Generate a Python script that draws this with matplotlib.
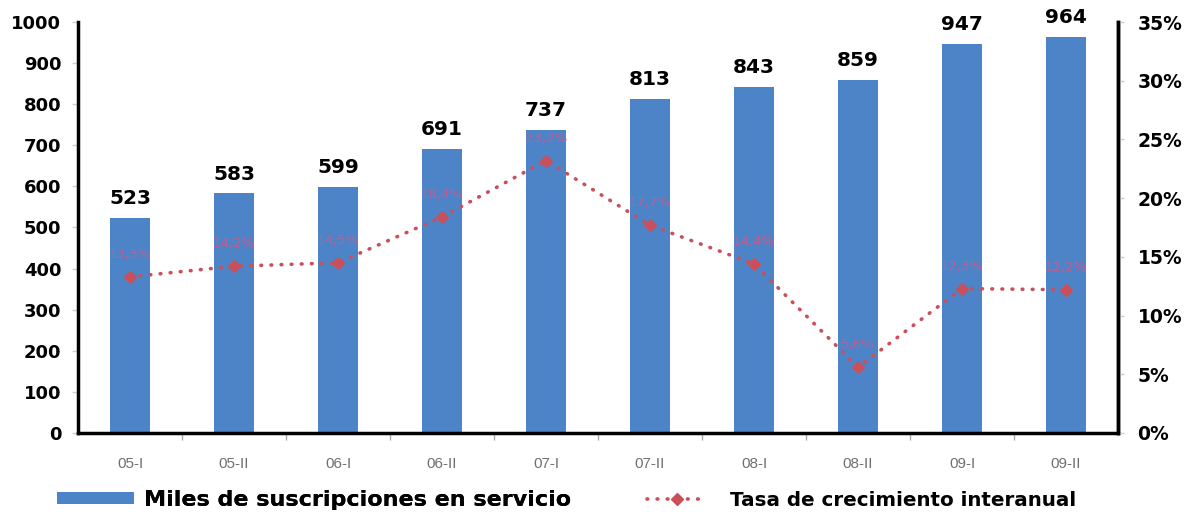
import matplotlib
matplotlib.use("Agg")
import matplotlib.pyplot as plt
import numpy as np
from matplotlib.ticker import FuncFormatter, FixedLocator
from matplotlib.lines import Line2D
from matplotlib.patches import Patch

categories = ["05-I", "05-II", "06-I", "06-II", "07-I", "07-II", "08-I", "08-II", "09-I", "09-II"]
suscripciones = [523, 583, 599, 691, 737, 813, 843, 859, 947, 964]
crecimiento = [13.3, 14.2, 14.5, 18.4, 23.2, 17.7, 14.4, 5.6, 12.3, 12.2]
left_ticks = [0, 100, 200, 300, 400, 500, 600, 700, 800, 900, 1000]
right_ticks = [0, 5, 10, 15, 20, 25, 30, 35]
legend_labels = ['Miles de suscripciones en servicio', 'Tasa de crecimiento interanual']

plt.rcParams['font.family'] = ['DejaVu Sans']

W, H = 1187, 515
fig = plt.figure(figsize=(W / 100, H / 100), dpi=100)
ax = fig.add_axes([78 / W, 1 - 433 / H, (1118 - 78) / W, (433 - 22) / H])
x = np.arange(len(categories))

bar_color = '#4d84c8'
line_color = '#c9505a'
lab_color = '#cc5a8c'

bars = ax.bar(x, suscripciones, width=0.39, color=bar_color, zorder=2)
for xi, v in zip(x, suscripciones):
    ax.text(xi, v + 24, str(v), ha='center', va='bottom', fontsize=14.5,
            fontweight='bold', color='black')

ax.set_xlim(-0.5, len(categories) - 0.5)
ax.set_ylim(0, 1000)
ax.set_yticks(left_ticks)
ax.set_xticks(x)
ax.set_xticklabels(categories, fontsize=11, color='#707070',
                   fontfamily='Liberation Sans')
ax.xaxis.set_minor_locator(FixedLocator(np.arange(0.5, len(categories) - 1, 1.0)))
ax.tick_params(axis='x', which='major', length=0, pad=17)
ax.tick_params(axis='x', which='minor', length=5, width=1, color='#aaaaaa', direction='out')
ax.tick_params(axis='y', length=4, width=1, color='#cccccc', pad=8)
for lab in ax.get_yticklabels():
    lab.set_fontweight('bold')
    lab.set_fontsize(13)
ax.spines['top'].set_visible(False)
for s in ['left', 'bottom', 'right']:
    ax.spines[s].set_linewidth(2.5)
    ax.spines[s].set_color('black')

ax2 = ax.twinx()
ax2.set_ylim(0, 35)
ax2.set_yticks(right_ticks)
ax2.yaxis.set_major_formatter(FuncFormatter(lambda v, p: f"{int(v)}%"))
ax2.tick_params(axis='y', length=4, width=1, color='#cccccc', pad=10)
for lab in ax2.get_yticklabels():
    lab.set_fontweight('bold')
    lab.set_fontsize(13.5)
for s in ['top', 'left', 'bottom']:
    ax2.spines[s].set_visible(False)
ax2.spines['right'].set_linewidth(2.5)

line, = ax2.plot(x, crecimiento, linestyle=(0, (0.2, 2.6)), linewidth=2.6,
                 dash_capstyle='round', color=line_color,
                 marker='D', markersize=6.5, markerfacecolor=line_color,
                 markeredgecolor=line_color, zorder=3)
for xi, v in zip(x, crecimiento):
    ax2.text(xi, v + 1.9, f"{v:.1f}%".replace('.', ','), ha='center', va='center',
             fontsize=9.5, color=lab_color, alpha=0.9, zorder=4)

leg_y = 1 - 500 / H
h1 = Patch(facecolor=bar_color, edgecolor='none')
h2 = Line2D([], [], linestyle=(0, (0.2, 2.6)), linewidth=2.6, dash_capstyle='round',
            color=line_color, marker='D', markersize=6.5)
leg1 = fig.legend([h1], [legend_labels[0]], loc='center left',
                  bbox_to_anchor=(57 / W, leg_y), frameon=False, borderpad=0,
                  borderaxespad=0, prop={'weight': 'bold', 'size': 16},
                  handlelength=3.45, handleheight=0.4, handletextpad=0.45)
leg2 = fig.legend([h2], [legend_labels[1]], loc='center left',
                  bbox_to_anchor=(647 / W, leg_y), frameon=False, borderpad=0,
                  borderaxespad=0, prop={'weight': 'bold', 'size': 14.3},
                  handlelength=3.0, handletextpad=1.2, numpoints=1)
fig.add_artist(leg1)

fig.savefig('out.png', dpi=100)
